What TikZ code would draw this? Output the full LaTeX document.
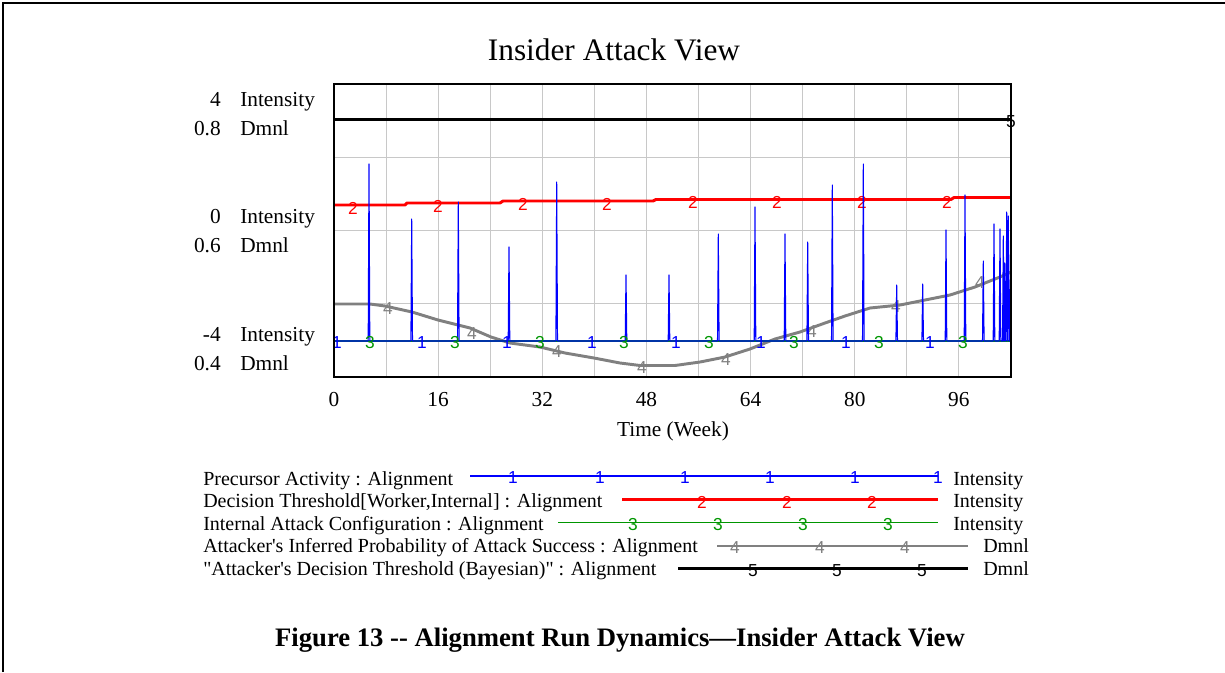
\documentclass[tikz,border=0pt]{standalone}
\usepackage{fontspec}
\setmainfont{Liberation Serif}
\newfontfamily\digitfont{Liberation Sans}
\usetikzlibrary{positioning}
\definecolor{gridgray}{RGB}{200,200,200}
\definecolor{probgray}{RGB}{128,128,128}
\definecolor{configgreen}{RGB}{0,150,0}
\tikzset{
    % Text styles
    title text/.style={font=\fontsize{23.5}{28}\selectfont, inner sep=0pt, anchor=base},
    axis text/.style={font=\fontsize{16}{19}\selectfont, inner sep=0pt},
    legend text/.style={font=\fontsize{15}{18}\selectfont, inner sep=0pt, anchor=base west},
    caption text/.style={font=\fontsize{20}{24}\bfseries\selectfont, inner sep=0pt, anchor=base},
    series digit/.style={font=\digitfont\fontsize{13}{15}\selectfont, inner sep=0pt},
    % Line styles
    frame line/.style={line width=1.5pt},
    grid line/.style={gridgray, line width=0.75pt},
    thin series/.style={line width=0.8pt, line join=round},
    thick series/.style={line width=2.2pt, line join=round},
}

\begin{document}
\begin{tikzpicture}[x=0.75pt, y=-0.75pt,
    precursor/.style={thin series, blue},
    threshold/.style={thick series, red},
    config/.style={thin series, configgreen},
    inferred/.style={thick series, probgray},
    bayes/.style={thick series, black},
]
    \useasboundingbox (0,0) rectangle (1225,672);

    % Outer frame
    \draw[frame line] (3,672) -- (3,3) -- (1225,3);

    % Title
    \node[title text] (title) at (614,60.5) {Insider Attack View};

    % Grid
    \foreach \k in {1,...,12}
        \draw[grid line] ({334+52.08*\k},84) -- ({334+52.08*\k},377);
    \foreach \y in {157.25,230.5,303.75}
        \draw[grid line] (334,\y) -- (1011,\y);

    % Vertical scales
    \node[axis text, anchor=base east] (i4) at (221,106) {4};
    \node[axis text, anchor=base west] (i4u) at (240,106) {Intensity};
    \node[axis text, anchor=base east] (d8) at (221,135.5) {0.8};
    \node[axis text, anchor=base west] (d8u) at (240,135.5) {Dmnl};
    \node[axis text, anchor=base east] (i0) at (221,223) {0};
    \node[axis text, anchor=base west] (i0u) at (240,223) {Intensity};
    \node[axis text, anchor=base east] (d6) at (221,252.5) {0.6};
    \node[axis text, anchor=base west] (d6u) at (240,252.5) {Dmnl};
    \node[axis text, anchor=base east] (im4) at (221,341.5) {-4};
    \node[axis text, anchor=base west] (im4u) at (240,341.5) {Intensity};
    \node[axis text, anchor=base east] (d4) at (221,370) {0.4};
    \node[axis text, anchor=base west] (d4u) at (240,370) {Dmnl};

    % Time axis
    \foreach \t [count=\k from 0] in {0,16,32,48,64,80,96}
        \node[axis text, anchor=base] (tick\t) at ({334+104.15*\k},406) {\t};
    \node[axis text, anchor=base] (timelabel) at (673,436) {Time (Week)};

    % Attacker's decision threshold
    \draw[bayes] (334,119.5) -- (1011,119.5);
    \node[series digit] (bayes5) at (1011,122) {5};

    % Decision threshold
    \draw[threshold] (334,205) -- (405,205) -- (407,203) -- (500,203) -- (503,201)
        -- (653,201) -- (656,199.5) -- (951,199.5) -- (954,197.5) -- (1011,197.5);
    \foreach \x/\y [count=\i] in {353/208,438/206,523/204,607/204,693/202.5,777/202.5,862/202.5,947/202.5}
        \node[series digit, red] (thr\i) at (\x,\y) {2};

    % Inferred probability of success
    \draw[inferred] (334,304) -- (370,304) -- (385,306) -- (412,312) -- (438,320)
        -- (470,328) -- (491,337) -- (510,343) -- (540,347) -- (565,353) -- (594,358)
        -- (620,363) -- (640,365.5) -- (675,365.5) -- (700,362) -- (725,357)
        -- (750,349) -- (775,339) -- (800,332) -- (825,323) -- (845,316) -- (870,308)
        -- (900,305) -- (925,300) -- (950,295) -- (975,287) -- (1000,277) -- (1011,272);
    \foreach \x/\y [count=\i] in {388/309,472/334,557/352,642/368,726/360,812/332,896/307,980/283}
        \node[series digit, probgray] (inf\i) at (\x,\y) {4};

    % Attack configuration and precursor activity
    \draw[config] (334,341) -- (1011,341);
    \begin{scope}
        \clip (334,84) rectangle (1011,377);
        \draw[precursor] (334,341)
            \foreach \x/\top in {369/164,411.7/219,458.3/202,509/247,556.7/182,
                626/275,669/275,718.3/234,755/207,785/234,807.7/242,832.3/185,
                863.3/164,896.7/285,922.7/284,946/230,965/195,983.3/261,994/224,
                1000/229,1003.3/236,1004.7/263,1006.7/212,1008.3/216,1010.7/230}
            { -- (\x-0.8,341) -- (\x,\top) -- (\x+0.8,341) } -- (1011,341);
    \end{scope}
    \foreach \x [count=\i] in {370,455,540,624,709,794,879,963}
        \node[series digit, configgreen] (cfg\i) at (\x,343) {3};
    \foreach \x [count=\i] in {337,422,507,592,676,761,846,930}
        \node[series digit, blue] (pre\i) at (\x,343) {1};

    % Plot box
    \draw[line width=1.9pt] (334,84) rectangle (1011,377);

    % Legend
    \node[legend text] (lg1) at (203,485) {Precursor Activity : Alignment};
    \node[legend text] (lg2) at (203,507.5) {Decision Threshold[Worker,Internal] : Alignment};
    \node[legend text] (lg3) at (203,530) {Internal Attack Configuration : Alignment};
    \node[legend text] (lg4) at (203,552.5) {Attacker\textquotesingle s Inferred Probability of Attack Success : Alignment};
    \node[legend text] (lg5) at (203,575) {\textquotedbl Attacker\textquotesingle s Decision Threshold (Bayesian)\textquotedbl{} : Alignment};

    \draw[precursor] (470,476) -- (938,476);
    \foreach \x in {513,600,685,770,855,938}
        \node[series digit, blue] at (\x,478) {1};
    \draw[threshold] (622,499.5) -- (938,499.5);
    \foreach \x in {702,787,872}
        \node[series digit, red] at (\x,502) {2};
    \draw[config] (558,522.5) -- (938,522.5);
    \foreach \x in {633,718,803,888}
        \node[series digit, configgreen] at (\x,524.5) {3};
    \draw[inferred] (717,546) -- (968,546);
    \foreach \x in {735,820,905}
        \node[series digit, probgray] at (\x,548) {4};
    \draw[bayes] (678,568.5) -- (968,568.5);
    \foreach \x in {753,837,922}
        \node[series digit] at (\x,571) {5};

    \node[legend text] (u1) at (953,485) {Intensity};
    \node[legend text] (u2) at (953,507.5) {Intensity};
    \node[legend text] (u3) at (953,530) {Intensity};
    \node[legend text] (u4) at (983,552.5) {Dmnl};
    \node[legend text] (u5) at (983,575) {Dmnl};

    % Caption
    \node[caption text] (caption) at (620,646) {Figure 13 -{}- Alignment Run Dynamics\textemdash Insider Attack View};
\end{tikzpicture}
\end{document}
